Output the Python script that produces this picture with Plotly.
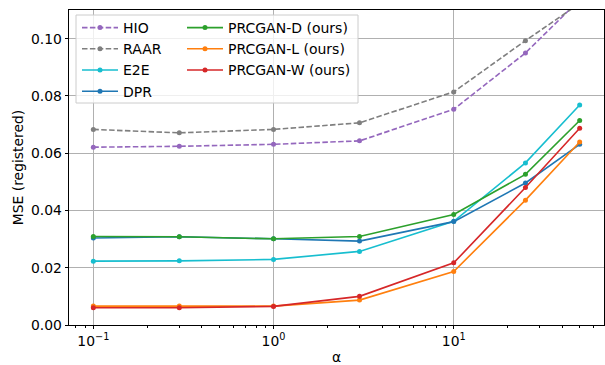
import numpy as np
import plotly.graph_objects as go

alpha = [0.1, 0.3, 1, 3, 10, 25, 50]

hio = [0.0621, 0.0624, 0.0631, 0.0643, 0.0753, 0.0950, 0.1136]
raar = [0.0683, 0.0671, 0.0683, 0.0706, 0.0814, 0.0993, 0.1123]
e2e = [0.0223, 0.0224, 0.0229, 0.0257, 0.0362, 0.0566, 0.0768]
dpr = [0.0304, 0.0308, 0.0301, 0.0293, 0.0361, 0.0496, 0.0631]
prc_d = [0.0309, 0.0308, 0.0301, 0.0309, 0.0386, 0.0526, 0.0714]
prc_l = [0.0066, 0.0066, 0.0066, 0.0087, 0.0187, 0.0436, 0.0639]
prc_w = [0.0060, 0.0060, 0.0065, 0.0100, 0.0217, 0.0480, 0.0687]

series = [
    ("HIO", hio, "#9467bd", "5.5px,2.4px", "legend"),
    ("RAAR", raar, "#7f7f7f", "5.5px,2.4px", "legend"),
    ("E2E", e2e, "#17becf", "solid", "legend"),
    ("DPR", dpr, "#1f77b4", "solid", "legend"),
    ("PRCGAN-D (ours)", prc_d, "#2ca02c", "solid", "legend2"),
    ("PRCGAN-L (ours)", prc_l, "#ff7f0e", "solid", "legend2"),
    ("PRCGAN-W (ours)", prc_w, "#d62728", "solid", "legend2"),
]

FONT = "DejaVu Sans"
FS = 13.9
LFS = 14.0

fig = go.Figure()
for i, (name, vals, col, dash, leg) in enumerate(series):
    fig.add_trace(go.Scatter(
        x=alpha, y=vals, name=name, mode="lines+markers",
        line=dict(color=col, width=1.6, dash=dash),
        marker=dict(color=col, size=5),
        legend=leg, legendrank=i,
    ))

W, H = 605, 365
L, R, T, B = 69, 1, 10, 40
pw = W - L - R
ph = H - T - B

lo, hi = np.log10(0.1), np.log10(50)
m = 0.05 * (hi - lo)
xr = [lo - m, hi + m]

minor_vals = [0.08, 0.09] + [k / 10 for k in range(2, 10)] + list(range(2, 10)) + [20, 30, 40, 50, 60]

def px2paper_x(p):
    return (p - L) / pw

def px2paper_y(p):
    return 1 - (p - T) / ph

leg_common = dict(
    yanchor="top", xanchor="left",
    bgcolor="rgba(0,0,0,0)", borderwidth=0,
    font=dict(family=FONT, size=LFS), itemwidth=36,
    tracegroupgap=0,
)

fig.update_layout(
    width=W, height=H,
    margin=dict(l=L, r=R, t=T, b=B),
    paper_bgcolor="white", plot_bgcolor="white",
    font=dict(family=FONT, size=FS, color="black"),
    showlegend=True,
    legend=dict(x=px2paper_x(77), y=px2paper_y(12), **leg_common),
    legend2=dict(x=px2paper_x(182), y=px2paper_y(12), **leg_common),
    shapes=[dict(
        type="rect", xref="paper", yref="paper",
        x0=px2paper_x(76), x1=px2paper_x(358),
        y0=px2paper_y(103), y1=px2paper_y(15),
        line=dict(color="#cccccc", width=1),
        fillcolor="rgba(255,255,255,0.8)", layer="above",
    )],
)

fig.update_xaxes(
    type="log", range=xr,
    tickvals=[0.1, 1, 10],
    ticktext=["10<sup>\u22121</sup>", "10<sup>0</sup>", "10<sup>1</sup>"],
    ticks="outside", ticklen=3.5, tickwidth=0.8, tickcolor="black",
    showgrid=True, gridcolor="#b0b0b0", gridwidth=0.8,
    showline=True, linecolor="black", linewidth=0.8, mirror=True,
    zeroline=False,
    minor=dict(tickvals=minor_vals, ticks="outside", ticklen=2, tickwidth=0.6,
               tickcolor="black", showgrid=False),
    title=dict(text="\u03b1", font=dict(family=FONT, size=FS), standoff=6),
    tickfont=dict(family=FONT, size=FS),
)
fig.update_yaxes(
    range=[0, 0.11],
    tickvals=[0.0, 0.02, 0.04, 0.06, 0.08, 0.10],
    ticktext=["0.00", "0.02", "0.04", "0.06", "0.08", "0.10"],
    ticks="outside", ticklen=3.5, tickwidth=0.8, tickcolor="black",
    showgrid=True, gridcolor="#b0b0b0", gridwidth=0.8,
    showline=True, linecolor="black", linewidth=0.8, mirror=True,
    zeroline=False,
    title=dict(text="MSE (registered)", font=dict(family=FONT, size=FS), standoff=4),
    tickfont=dict(family=FONT, size=FS),
)

fig.write_html("out.html")
